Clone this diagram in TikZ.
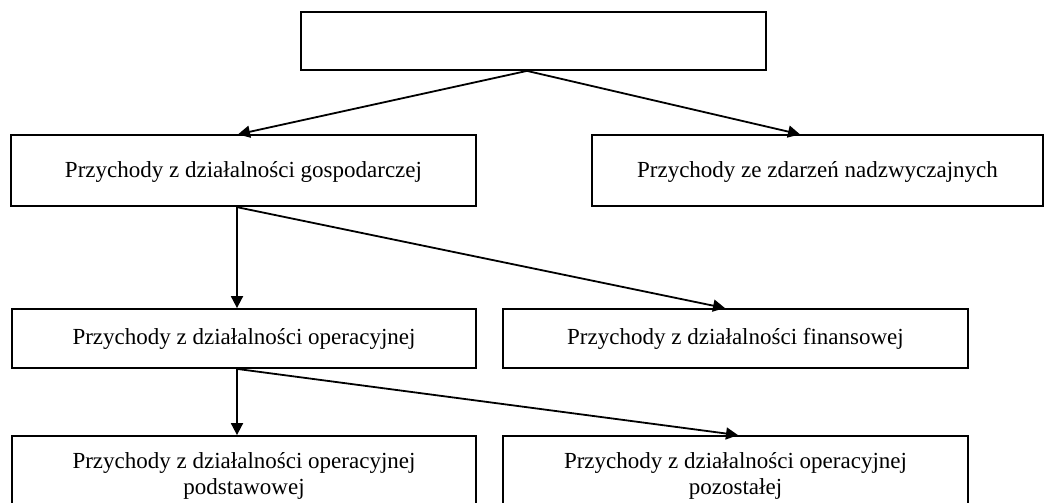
\documentclass[tikz,border=0pt]{standalone}
\usepackage{fontspec}
\setmainfont{Liberation Serif}
\usetikzlibrary{arrows.meta,calc}
\begin{document}
\begin{tikzpicture}[x=1pt,y=-1pt,
  box/.style={draw=black,line width=1.8pt,rectangle,inner sep=0pt,align=center,
    font=\fontsize{23}{26}\selectfont},
  conn/.style={line width=1.8pt,-{Triangle[length=12pt,width=12pt]}}]
\useasboundingbox (0,0) rectangle (1045,503);
\node[box,minimum width=465,minimum height=58] (top) at (533.5,41) {};
\node[box,minimum width=465,minimum height=71,text depth=2pt] (b1) at (243.5,170.75) {Przychody z działalności gospodarczej};
\node[box,minimum width=451,minimum height=71,text depth=2pt] (b2) at (817.5,170.75) {Przychody ze zdarzeń nadzwyczajnych};
\node[box,minimum width=464,minimum height=59] (b3) at (244,338.5) {Przychody z działalności operacyjnej};
\node[box,minimum width=465,minimum height=59] (b4) at (735.5,338.5) {Przychody z działalności finansowej};
\node[box,minimum width=464,minimum height=79] (b5) at (244,475.5) {Przychody z działalności operacyjnej\\podstawowej};
\node[box,minimum width=465,minimum height=79] (b6) at (735.5,475.5) {Przychody z działalności operacyjnej\\pozostałej};
\draw[conn] ($(top.south)+(-6.5,0)$) -- ($(b1.north)+(-5.5,0)$);
\draw[conn] ($(top.south)+(-6.5,0)$) -- ($(b2.north)+(-17.5,0)$);
\draw[conn] ($(b1.south)+(-6.5,0)$) -- ($(b3.north)+(-7,0)$);
\draw[conn] ($(b1.south)+(-6.5,0)$) -- ($(b4.north)+(-10.5,0)$);
\draw[conn] ($(b3.south)+(-7,0)$) -- ($(b5.north)+(-7,0)$);
\draw[conn] ($(b3.south)+(-7,0)$) -- ($(b6.north)+(2.5,0)$);
\end{tikzpicture}
\end{document}
